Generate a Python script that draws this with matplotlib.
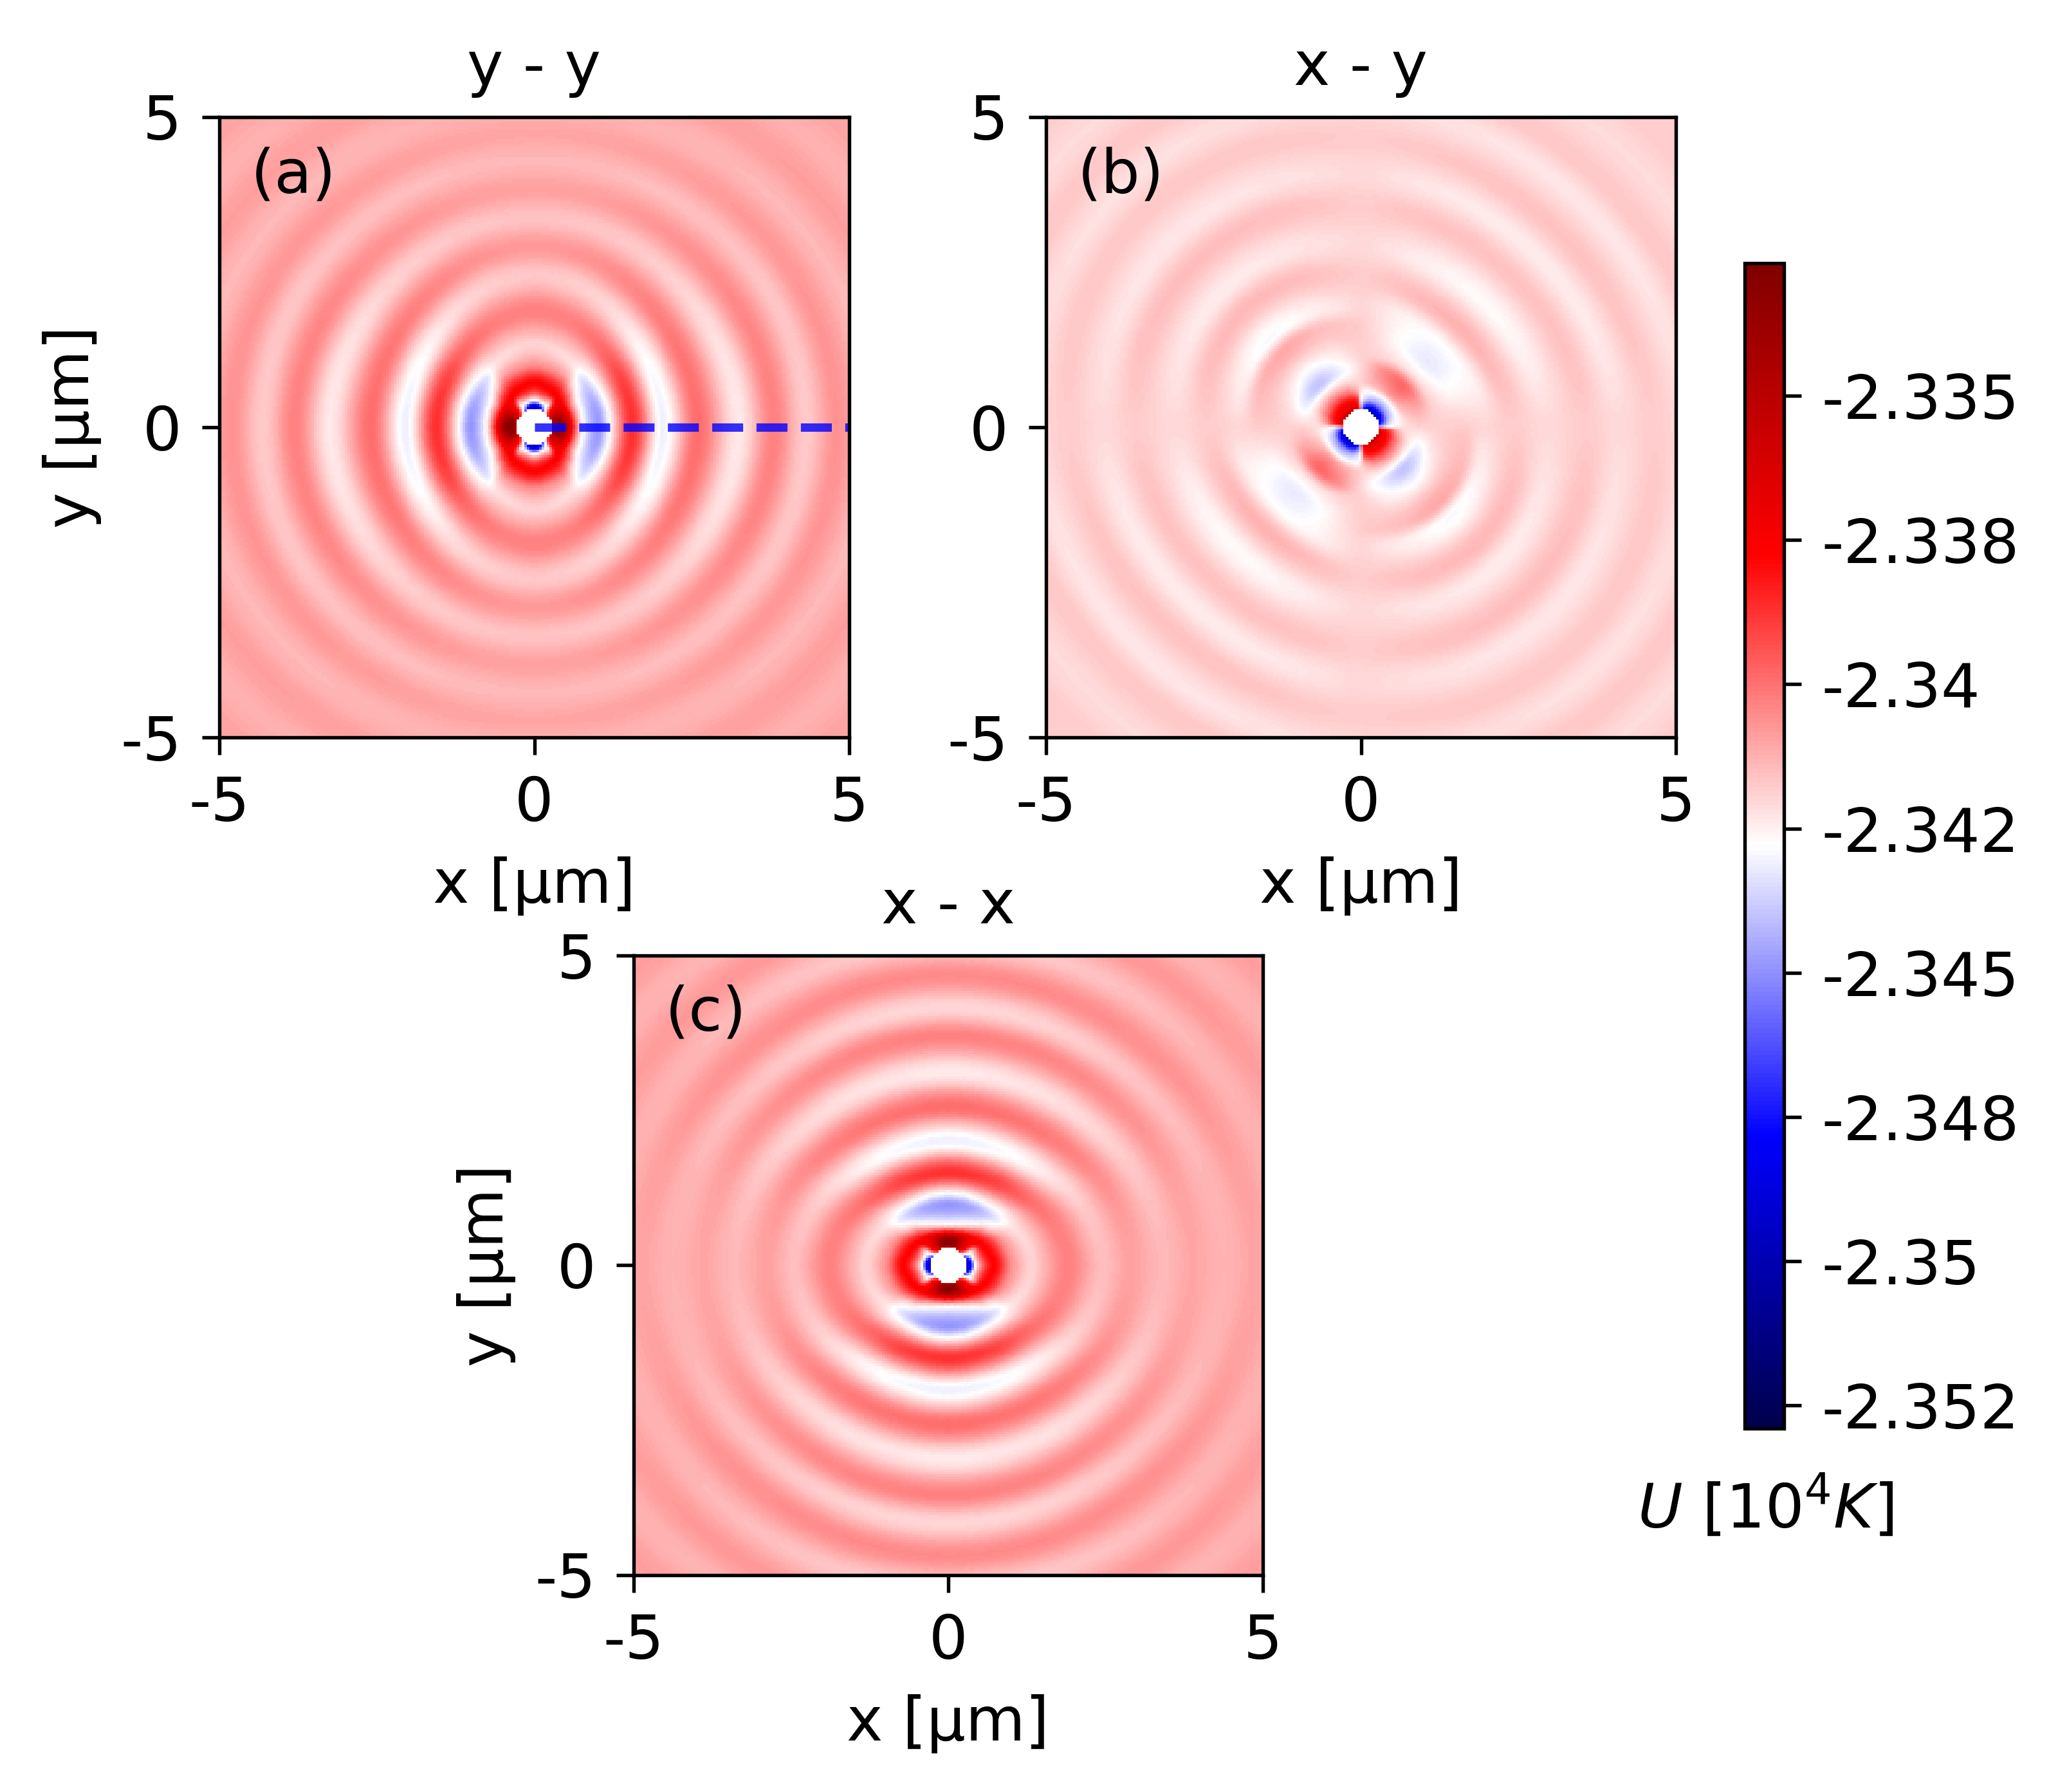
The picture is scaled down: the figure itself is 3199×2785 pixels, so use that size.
import numpy as np
import matplotlib
matplotlib.use('Agg')
import matplotlib.pyplot as plt

# The fields are rebuilt from values: for each direction,
# the radius [um] and level of every ring extremum/crossing. Levels are in units
# of 1e-3 above U_REF. In between, the field is only smoothed for drawing.
U_REF = -2.34
VMIN = -2.3529
VMAX = -2.3327
HOLE_RADIUS = 0.29

ANGLES_QUARTER = [0, 15, 30, 45, 60, 75, 90]

RADII_A = [
    [.29, .29, .29, .29, .29, .29, .29],
    [.33, .33, .33, .33, .34, .35, .36],
    [.37, .37, .38, .38, .40, .41, .43],
    [.41, .44, .48, .55, .62, .68, .72],
    [.78, .79, .81, .93, 1.0, 1.0, 1.0],
    [1.02, 1.02, 1.03, 1.08, 1.2, 1.3, 1.36],
    [1.2, 1.2, 1.2, 1.22, 1.33, 1.45, 1.5],
    [1.56, 1.56, 1.58, 1.63, 1.72, 1.82, 1.88],
    [2.05, 2.05, 2.08, 2.15, 2.28, 2.4, 2.45],
    [2.6, 2.6, 2.62, 2.68, 2.78, 2.88, 2.92],
    [3.26, 3.24, 3.22, 3.25, 3.3, 3.36, 3.38],
    [3.81, 3.8, 3.78, 3.78, 3.8, 3.83, 3.85],
    [4.33, 4.33, 4.32, 4.3, 4.3, 4.3, 4.3],
    [4.82, 4.82, 4.8, 4.78, 4.76, 4.75, 4.75],
    [5.4, 5.4, 5.35, 5.3, 5.25, 5.2, 5.2],
    [5.95, 5.95, 5.9, 5.85, 5.8, 5.75, 5.7],
    [6.5, 6.5, 6.45, 6.4, 6.3, 6.25, 6.2],
    [7.05, 7.05, 7.0, 6.95, 6.85, 6.8, 6.75],
    [7.4, 7.4, 7.4, 7.4, 7.4, 7.4, 7.4],
]
VALUES_A = [
    [5.0, 5.5, 3.5, 0.0, -6.0, -9.0, -10.0],
    [6.0, 6.2, 4.0, 1.5, -3.5, -7.0, -7.9],
    [6.9, 6.6, 4.5, 2.2, -2.8, -2.8, -2.8],
    [7.0, 6.0, 4.0, 2.5, 2.3, 2.2, 2.2],
    [-2.8, -2.8, -2.8, -2.6, -1.2, -0.8, -0.6],
    [-4.9, -4.7, -4.2, -3.4, -2.2, -2.0, -1.9],
    [-2.8, -2.8, -2.8, -2.6, -1.8, -1.5, -1.4],
    [1.3, 1.2, 0.9, 0.3, -0.1, -0.3, -0.3],
    [-3.1, -3.0, -2.8, -2.4, -2.0, -1.8, -1.7],
    [0.1, 0.0, -0.1, -0.3, -0.5, -0.7, -0.8],
    [-2.35, -2.3, -2.15, -1.9, -1.75, -1.65, -1.6],
    [-0.3, -0.35, -0.45, -0.6, -0.75, -0.9, -0.95],
    [-1.75, -1.7, -1.65, -1.55, -1.5, -1.45, -1.4],
    [-0.65, -0.7, -0.75, -0.8, -0.9, -1.0, -1.05],
    [-1.45, -1.45, -1.4, -1.4, -1.35, -1.3, -1.3],
    [-0.85, -0.85, -0.9, -0.9, -0.95, -1.0, -1.0],
    [-1.3, -1.3, -1.3, -1.25, -1.25, -1.2, -1.2],
    [-0.95, -0.95, -0.95, -1.0, -1.0, -1.0, -1.0],
    [-1.1, -1.1, -1.1, -1.1, -1.1, -1.1, -1.1],
]

RADII_C = [
    [.29, .29, .29, .29, .29, .29, .29],
    [.36, .35, .34, .33, .33, .33, .33],
    [.43, .41, .40, .38, .37, .37, .36],
    [.73, .68, .62, .55, .48, .43, .39],
    [1.0, 1.0, .97, .93, .79, .71, .68],
    [1.34, 1.3, 1.2, 1.06, 1.0, .99, .99],
    [1.5, 1.45, 1.33, 1.2, 1.17, 1.17, 1.17],
    [1.9, 1.84, 1.72, 1.6, 1.54, 1.5, 1.5],
    [2.46, 2.4, 2.28, 2.12, 2.05, 2.02, 2.02],
    [2.9, 2.86, 2.78, 2.66, 2.6, 2.58, 2.58],
    [3.43, 3.38, 3.3, 3.2, 3.15, 3.13, 3.13],
    [3.9, 3.85, 3.8, 3.75, 3.72, 3.72, 3.72],
    [4.4, 4.35, 4.28, 4.22, 4.18, 4.17, 4.17],
    [4.94, 4.85, 4.78, 4.72, 4.7, 4.7, 4.7],
    [5.4, 5.35, 5.3, 5.28, 5.25, 5.22, 5.2],
    [5.9, 5.88, 5.85, 5.82, 5.8, 5.78, 5.75],
    [6.45, 6.42, 6.4, 6.35, 6.3, 6.28, 6.25],
    [7.0, 6.98, 6.95, 6.9, 6.85, 6.82, 6.8],
    [7.4, 7.4, 7.4, 7.4, 7.4, 7.4, 7.4],
]
VALUES_C = [
    [-10.0, -9.0, -6.0, 0.0, 3.5, 5.5, 5.0],
    [-7.9, -7.0, -3.5, 1.5, 4.0, 6.2, 6.0],
    [-2.8, -2.8, -2.8, 2.2, 4.5, 6.6, 6.9],
    [2.2, 2.2, 2.3, 2.5, 4.0, 6.0, 7.0],
    [-0.6, -0.8, -1.2, -2.6, -2.8, -2.8, -2.8],
    [-1.9, -2.0, -2.2, -3.3, -4.2, -4.7, -4.9],
    [-1.4, -1.5, -1.8, -2.6, -2.8, -2.8, -2.8],
    [-0.3, -0.3, -0.1, 0.3, 0.9, 1.2, 1.3],
    [-1.5, -1.6, -1.9, -2.4, -2.8, -3.0, -3.1],
    [-0.95, -0.85, -0.6, -0.3, -0.1, 0.0, 0.1],
    [-1.4, -1.5, -1.75, -2.0, -2.2, -2.3, -2.4],
    [-1.05, -1.0, -0.8, -0.6, -0.45, -0.35, -0.3],
    [-1.3, -1.35, -1.45, -1.6, -1.8, -1.95, -2.0],
    [-1.0, -0.95, -0.8, -0.65, -0.55, -0.5, -0.5],
    [-1.25, -1.25, -1.3, -1.4, -1.55, -1.7, -1.8],
    [-1.0, -0.95, -0.9, -0.8, -0.75, -0.7, -0.7],
    [-1.2, -1.2, -1.25, -1.3, -1.4, -1.45, -1.5],
    [-1.0, -1.0, -0.95, -0.9, -0.85, -0.8, -0.8],
    [-1.1, -1.1, -1.1, -1.1, -1.1, -1.1, -1.1],
]

ANGLES_B = [0, 8, 22.5, 45, 67.5, 82, 90, 98, 112.5, 135, 157.5, 172]
RADII_B = [
    [.29] * 12,
    [.36] * 12,
    [.45] * 12,
    [.58] * 12,
    [.75, .74, .72, .70, .72, .74, .75, .77, .80, .80, .80, .77],
    [.95] * 12,
    [1.2] * 12,
    [1.62, 1.6, 1.54, 1.5, 1.54, 1.6, 1.62, 1.65, 1.71, 1.75, 1.71, 1.65],
    [1.94, 1.92, 1.88, 1.85, 1.88, 1.92, 1.94, 1.96, 2.0, 2.03, 2.0, 1.96],
    [2.44, 2.39, 2.29, 2.23, 2.29, 2.39, 2.44, 2.49, 2.59, 2.65, 2.59, 2.49],
    [2.95, 2.91, 2.84, 2.8, 2.84, 2.91, 2.95, 2.99, 3.06, 3.1, 3.06, 2.99],
    [3.59, 3.55, 3.48, 3.43, 3.48, 3.55, 3.59, 3.63, 3.7, 3.75, 3.7, 3.63],
    [4.1, 4.06, 3.99, 3.94, 3.99, 4.06, 4.1, 4.14, 4.2, 4.25, 4.2, 4.14],
    [4.67, 4.62, 4.51, 4.44, 4.51, 4.62, 4.67, 4.72, 4.83, 4.9, 4.83, 4.72],
    [5.22, 5.18, 5.1, 5.05, 5.1, 5.18, 5.22, 5.26, 5.35, 5.4, 5.35, 5.26],
    [5.72, 5.67, 5.57, 5.5, 5.57, 5.67, 5.72, 5.77, 5.88, 5.95, 5.88, 5.77],
    [6.3, 6.25, 6.16, 6.1, 6.16, 6.25, 6.3, 6.35, 6.44, 6.5, 6.44, 6.35],
    [6.85, 6.8, 6.71, 6.65, 6.71, 6.8, 6.85, 6.9, 6.99, 7.05, 6.99, 6.9],
    [7.4] * 12,
]
VALUES_B = [
    [-2.8, -7.0, -9.5, -10.0, -9.5, -7.0, -2.8, 3.0, 4.5, 4.5, 4.5, 3.0],
    [-2.8, -5.5, -7.5, -8.0, -7.5, -5.5, -2.8, 2.2, 2.9, 3.0, 2.9, 2.2],
    [-2.6, -3.6, -4.6, -5.0, -4.6, -3.6, -2.6, 1.2, 2.0, 2.2, 2.0, 1.2],
    [-2.3, -2.8, -2.9, -2.9, -2.9, -2.8, -2.2, -0.9, 0.0, 0.3, 0.0, -1.0],
    [-2.1, -2.0, -1.5, -0.8, -1.2, -1.6, -1.9, -2.1, -2.4, -2.6, -2.4, -2.2],
    [-1.9, -1.6, -0.9, 0.2, -0.5, -1.5, -2.0, -2.5, -3.2, -4.0, -3.2, -2.4],
    [-1.9, -1.9, -2.0, -2.3, -2.1, -1.9, -1.9, -2.1, -2.6, -3.0, -2.4, -2.0],
    [-1.8, -2.1, -2.7, -3.2, -2.7, -2.1, -1.8, -1.7, -1.5, -1.1, -1.4, -1.6],
    [-2.0, -2.2, -2.6, -2.8, -2.6, -2.2, -2.0, -2.2, -2.5, -2.9, -2.5, -2.2],
    [-1.8, -1.7, -1.45, -1.3, -1.45, -1.7, -1.8, -1.7, -1.5, -1.4, -1.5, -1.7],
    [-2.05, -2.2, -2.5, -2.7, -2.5, -2.2, -2.05, -2.15, -2.3, -2.4, -2.3, -2.15],
    [-1.8, -1.7, -1.6, -1.6, -1.6, -1.7, -1.8, -1.7, -1.55, -1.5, -1.55, -1.7],
    [-2.05, -2.2, -2.35, -2.4, -2.35, -2.2, -2.05, -2.15, -2.25, -2.3, -2.25, -2.15],
    [-1.8, -1.75, -1.65, -1.6, -1.65, -1.75, -1.8, -1.75, -1.7, -1.7, -1.7, -1.75],
    [-2.05, -2.15, -2.25, -2.3, -2.25, -2.15, -2.05, -2.1, -2.15, -2.2, -2.15, -2.1],
    [-1.8, -1.75, -1.7, -1.7, -1.7, -1.75, -1.8, -1.75, -1.7, -1.7, -1.7, -1.75],
    [-2.05, -2.05, -2.1, -2.1, -2.1, -2.05, -2.05, -2.05, -2.1, -2.1, -2.1, -2.05],
    [-1.85, -1.85, -1.8, -1.8, -1.8, -1.85, -1.85, -1.85, -1.8, -1.8, -1.8, -1.85],
    [-1.9] * 12,
]

TICKS = [-5, 0, 5]
TICK_LABELS = ['-5', '0', '5']
CBAR_TICKS = [-2.335, -2.3375, -2.34, -2.3425, -2.345, -2.3475, -2.35, -2.3525]
CBAR_LABELS = ['-2.335', '-2.338', '-2.34', '-2.342', '-2.345', '-2.348', '-2.35', '-2.352']

W, H = 3199, 2785
FS = 11.45
plt.rcParams['font.size'] = FS


def pchip(x, xk, yk):
    # monotone cubic between the read values, so no invented extrema
    xk = np.asarray(xk, float)
    yk = np.asarray(yk, float)
    h = np.diff(xk)
    d = np.diff(yk) / h
    m = np.zeros_like(yk)
    m[0], m[-1] = d[0], d[-1]
    same = d[:-1] * d[1:] > 0
    w1 = 2 * h[1:] + h[:-1]
    w2 = h[1:] + 2 * h[:-1]
    m[1:-1][same] = (w1[same] + w2[same]) / (w1[same] / d[:-1][same] + w2[same] / d[1:][same])
    i = np.clip(np.searchsorted(xk, x) - 1, 0, len(xk) - 2)
    t = (x - xk[i]) / h[i]
    return ((2*t**3 - 3*t**2 + 1) * yk[i] + (t**3 - 2*t**2 + t) * h[i] * m[i]
            + (-2*t**3 + 3*t**2) * yk[i+1] + (t**3 - t**2) * h[i] * m[i+1])


def full_circle_quarter(table):
    # the quarter-plane readings, mirrored about both axes
    t = np.asarray(table, float)
    half = np.hstack([t, t[:, -2::-1]])
    return np.hstack([half, half[:, 1:]])


def full_circle_b(table):
    # panel (b) repeats after half a turn
    t = np.asarray(table, float)
    return np.hstack([t, t, t[:, :1]])


def field(radii, values, angles):
    # radii / values have one column per entry of angles (degrees, 0..360)
    th = np.linspace(0, 360, 721)
    ang = np.r_[angles[-2] - 360, angles, angles[1] + 360]
    rad = np.array([pchip(th, ang, np.r_[c[-2], c, c[1]]) for c in radii])
    val = np.array([pchip(th, ang, np.r_[c[-2], c, c[1]]) for c in values])
    rgrid = np.linspace(0, 7.3, 731)
    polar = np.array([pchip(rgrid, rad[:, j], val[:, j]) for j in range(len(th))])

    xc = np.linspace(-5, 5, 246)
    xx, yy = np.meshgrid(xc, xc)
    r = np.hypot(xx, yy)
    it = np.rint((np.degrees(np.arctan2(yy, xx)) % 360) * 2).astype(int)
    ir = np.clip(np.rint(r * 100).astype(int), 0, 730)
    u = U_REF + polar[it, ir] * 1e-3
    u[r < HOLE_RADIUS] = np.nan
    return u


quarter = np.array(ANGLES_QUARTER, float)
angles_q = np.r_[quarter, quarter[1:] + 90, quarter[1:] + 180, quarter[1:] + 270]
half_turn = np.array(ANGLES_B, float)
angles_b = np.r_[half_turn, half_turn + 180, 360]
field_a = field(full_circle_quarter(RADII_A), full_circle_quarter(VALUES_A), angles_q)
field_c = field(full_circle_quarter(RADII_C), full_circle_quarter(VALUES_C), angles_q)
field_b = field(full_circle_b(RADII_B), full_circle_b(VALUES_B), angles_b)

fig = plt.figure(figsize=(W / 600, H / 600), dpi=600)


def add_panel(box, data, title, tag, tag_y, ylabel=True):
    left, top, right, bottom = box
    ax = fig.add_axes([left / W, 1 - bottom / H, (right - left) / W, (bottom - top) / H])
    im = ax.imshow(data, origin='lower', extent=[-5, 5, -5, 5], cmap='seismic',
                   vmin=VMIN, vmax=VMAX, aspect='auto', interpolation='nearest')
    ax.set_xticks(TICKS)
    ax.set_xticklabels(TICK_LABELS)
    ax.set_yticks(TICKS)
    ax.set_yticklabels(TICK_LABELS)
    ax.tick_params(length=3.2, width=0.65, pad=3.8)
    for s in ax.spines.values():
        s.set_linewidth(0.65)
    ax.set_xlabel('x [µm]', labelpad=4.2)
    if ylabel:
        ax.set_ylabel('y [µm]', labelpad=3.5)
    ax.set_title(title, fontsize=FS, pad=6)
    ax.text(-4.5, tag_y, tag, ha='left', va='center')
    return ax, im


ax_a, im = add_panel((341, 181.5, 1320, 1146), field_a, 'y - y', '(a)', 4.05)
add_panel((1626, 181.5, 2605, 1146), field_b, 'x - y', '(b)', 4.05, ylabel=False)
add_panel((984.5, 1484.5, 1963, 2447.5), field_c, 'x - x', '(c)', 4.05)

ax_a.plot([0, 5], [0, 0], '--', color='blue', alpha=0.8, lw=1.56)

cax = fig.add_axes([2712 / W, 1 - 2220 / H, 61 / W, 1811 / H])
cbar = fig.colorbar(im, cax=cax)
cbar.set_ticks(CBAR_TICKS)
cbar.set_ticklabels(CBAR_LABELS)
cbar.ax.tick_params(length=3.2, width=0.65, pad=3.8)
cbar.outline.set_linewidth(0.65)
fig.text(2744 / W, 1 - 2342 / H, r'$U$ [$10^4K$]', ha='center', va='center')

fig.savefig('out.png', dpi=600)
